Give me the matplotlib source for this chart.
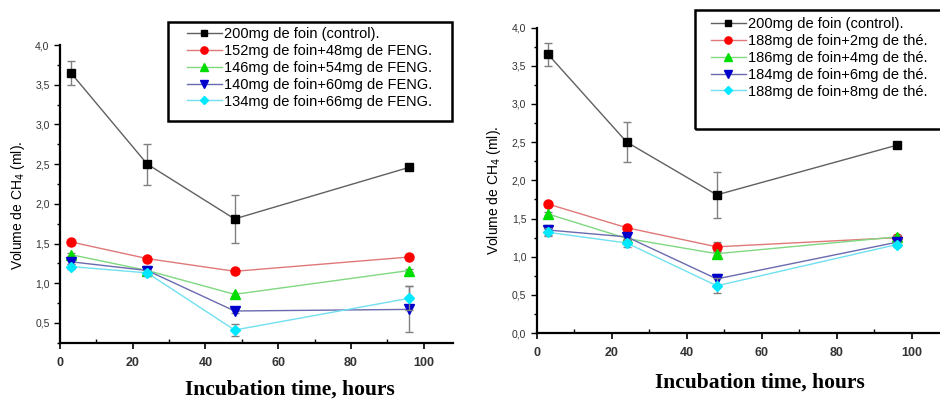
import numpy as np
import matplotlib
matplotlib.use("Agg")
from matplotlib import pyplot as plt
from matplotlib.ticker import MultipleLocator, FuncFormatter
from matplotlib.patches import Rectangle

# données
hours = [3, 24, 48, 96]

left_labels = [
    "200mg de foin (control).",
    "152mg de foin+48mg de FENG.",
    "146mg de foin+54mg de FENG.",
    "140mg de foin+60mg de FENG.",
    "134mg de foin+66mg de FENG.",
]
left_values = [
    [3.65, 2.50, 1.81, 2.46],
    [1.52, 1.31, 1.15, 1.33],
    [1.36, 1.16, 0.86, 1.16],
    [1.27, 1.16, 0.65, 0.67],
    [1.21, 1.13, 0.41, 0.81],
]
left_errors = [
    [0.15, 0.26, 0.30, 0.04],
    [0.02, 0.02, 0.02, 0.02],
    [0.02, 0.06, 0.02, 0.02],
    [0.03, 0.03, 0.02, 0.29],
    [0.03, 0.04, 0.08, 0.15],
]

right_labels = [
    "200mg de foin (control).",
    "188mg de foin+2mg de thé.",
    "186mg de foin+4mg de thé.",
    "184mg de foin+6mg de thé.",
    "188mg de foin+8mg de thé.",
]
right_values = [
    [3.65, 2.50, 1.81, 2.46],
    [1.69, 1.38, 1.13, 1.25],
    [1.56, 1.24, 1.04, 1.26],
    [1.35, 1.26, 0.71, 1.19],
    [1.32, 1.18, 0.62, 1.16],
]
right_errors = [
    [0.15, 0.26, 0.30, 0.03],
    [0.02, 0.02, 0.06, 0.02],
    [0.02, 0.02, 0.02, 0.03],
    [0.07, 0.04, 0.07, 0.03],
    [0.05, 0.05, 0.10, 0.03],
]

markers = ["s", "o", "^", "v", "D"]
marker_colors = ["#000000", "#ff0000", "#00dd00", "#0000cc", "#00e8ff"]
line_colors = ["#606060", "#e07878", "#80d880", "#6a6ab0", "#70e0f0"]
marker_sizes = [5.5, 6.5, 6.5, 6.5, 5.5]

plt.rcParams["font.family"] = ["Liberation Sans", "DejaVu Sans"]


def comma(v, pos):
    return ("%.1f" % v).replace(".", ",")


def draw_panel(ax, values, errors, ymin):
    handles = []
    for i in range(len(values)):
        ax.errorbar(hours, values[i], yerr=errors[i], fmt="none",
                    ecolor="#808080", elinewidth=1, capsize=3, capthick=1)
        h, = ax.plot(hours, values[i], color=line_colors[i], lw=1,
                     marker=markers[i], ms=marker_sizes[i],
                     mfc=marker_colors[i], mec=marker_colors[i])
        handles.append(h)
    ax.set_xlim(0, 108)
    ax.set_ylim(ymin, 4.0)
    for s in ["top", "right"]:
        ax.spines[s].set_visible(False)
    for s in ["left", "bottom"]:
        ax.spines[s].set_linewidth(1.6)
    ax.xaxis.set_major_locator(MultipleLocator(20))
    ax.xaxis.set_minor_locator(MultipleLocator(10))
    ax.yaxis.set_major_locator(MultipleLocator(0.5))
    ax.yaxis.set_minor_locator(MultipleLocator(0.25))
    ax.yaxis.set_major_formatter(FuncFormatter(comma))
    ax.tick_params(axis="x", which="major", direction="out", length=4,
                   width=1.2, labelsize=9, pad=6)
    ax.tick_params(axis="x", which="minor", direction="in", length=3, width=1)
    ax.tick_params(axis="y", which="both", direction="out", width=1, labelsize=7.5,
                   labelcolor="#333333")
    ax.tick_params(axis="y", which="major", length=4)
    ax.tick_params(axis="y", which="minor", length=2.5)
    for t in ax.get_xticklabels():
        t.set_fontweight("bold")
        t.set_color("#333333")
    ax.set_ylabel("Volume de CH$_4$ (ml).", fontsize=10)
    ax.set_xlabel("Incubation time, hours", fontsize=15.5, fontweight="bold",
                  family="Liberation Serif")
    ax.xaxis.label.set_va("center")
    return handles


fig = plt.figure(figsize=(9.4, 3.99), dpi=100)

ax1 = fig.add_axes([0.0638, 0.141, 0.418, 0.746])
h1 = draw_panel(ax1, left_values, left_errors, 0.25)
ax1.yaxis.set_label_coords(-0.085, 0.46)
ax1.xaxis.set_label_coords(0.585, -0.158)

ax2 = fig.add_axes([0.571, 0.165, 0.431, 0.766])
h2 = draw_panel(ax2, right_values, right_errors, 0.0)
ax2.yaxis.set_label_coords(-0.083, 0.466)
ax2.xaxis.set_label_coords(0.551, -0.163)

# cadres des légendes
W, H = 940.0, 399.0
fig.patches.append(Rectangle((168 / W, 1 - 121 / H), 284 / W, 99 / H,
                             transform=fig.transFigure, fill=False,
                             edgecolor="black", lw=1.8))
fig.patches.append(Rectangle((695 / W, 1 - 129 / H), 260 / W, 119 / H,
                             transform=fig.transFigure, fill=False,
                             edgecolor="black", lw=1.8))

fig.legend(h1, left_labels, loc="upper left", bbox_to_anchor=(184 / W, 1 - 24 / H),
           frameon=False, fontsize=10.5, handlelength=2.4, handletextpad=0.15,
           labelspacing=0.2, borderpad=0.2, markerscale=0.8, borderaxespad=0)
fig.legend(h2, right_labels, loc="upper left", bbox_to_anchor=(708 / W, 1 - 14 / H),
           frameon=False, fontsize=10.5, handlelength=2.4, handletextpad=0.15,
           labelspacing=0.2, borderpad=0.2, markerscale=0.8, borderaxespad=0)

fig.savefig("out.png", dpi=100)
